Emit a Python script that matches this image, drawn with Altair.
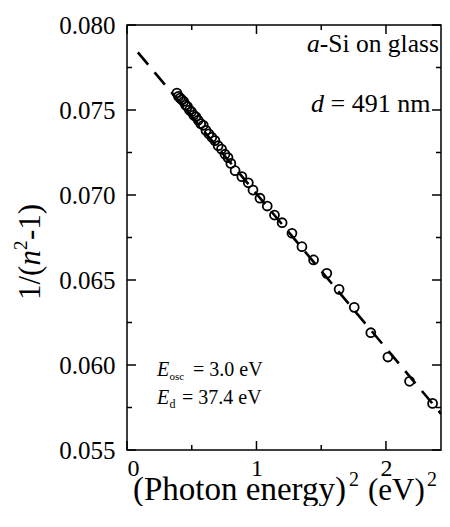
import altair as alt
import pandas as pd

# ---- data ----
x_pts = [0.385, 0.398, 0.411, 0.424, 0.438, 0.452, 0.467, 0.482, 0.498, 0.515,
         0.532, 0.550, 0.569, 0.589, 0.610, 0.632, 0.655, 0.679, 0.704, 0.730,
         0.757, 0.780,
         0.802, 0.835, 0.887, 0.937, 0.973, 1.027, 1.083, 1.139, 1.198, 1.274,
         1.351, 1.441, 1.543, 1.638, 1.755, 1.883, 2.015, 2.182, 2.360]
y_pts = [0.0760, 0.0758, 0.0757, 0.0756, 0.0755, 0.0753, 0.0752, 0.0750, 0.0749, 0.0747,
         0.0746, 0.0744, 0.0742, 0.0741, 0.0738, 0.0736, 0.0734, 0.0732, 0.0729, 0.0727,
         0.0724, 0.0722,
         0.07186, 0.07143, 0.07108, 0.07072, 0.07029, 0.06981, 0.06935, 0.06882, 0.06837, 0.06775,
         0.06696, 0.06618, 0.06539, 0.06445, 0.06339, 0.06190, 0.06047, 0.05904, 0.05774]

fit_x = [0.084, 2.425]
fit_y = [0.07839, 0.05713]

x_major = [0, 1, 2]
x_minor = [0.5, 1.5]
y_major = [0.055, 0.060, 0.065, 0.070, 0.075, 0.080]
y_minor = [0.0575, 0.0625, 0.0675, 0.0725, 0.0775]

X_DOMAIN = [0, 2.425]
Y_DOMAIN = [0.055, 0.080]
W, H = 314, 425
SERIF = "Liberation Serif"

pts = pd.DataFrame({"x": x_pts, "y": y_pts})
fit = pd.DataFrame({"x": fit_x, "y": fit_y})

xs = alt.Scale(domain=X_DOMAIN, nice=False, zero=False)
ys = alt.Scale(domain=Y_DOMAIN, nice=False, zero=False)

x_axis = alt.Axis(values=x_major, format="d", ticks=False, tickSize=0, domain=False, grid=False,
                  labelFont=SERIF, labelFontSize=24, labelPadding=6, labelColor="black",
                  labelBaseline="top", title="")
y_axis = alt.Axis(values=y_major, format=".3f", ticks=False, tickSize=0, domain=False, grid=False,
                  labelFont=SERIF, labelFontSize=25, labelPadding=12, labelColor="black",
                  title="")

line = alt.Chart(fit).mark_line(color="black", strokeWidth=2.6, strokeDash=[16, 10], clip=True).encode(
    x=alt.X("x:Q", scale=xs, axis=x_axis),
    y=alt.Y("y:Q", scale=ys, axis=y_axis),
)

points = alt.Chart(pts).mark_point(shape="circle", filled=False, color="black",
                                   size=80, strokeWidth=1.8, opacity=1).encode(
    x=alt.X("x:Q", scale=xs),
    y=alt.Y("y:Q", scale=ys),
)

def xticks(vals, length):
    d = pd.DataFrame({"v": vals})
    bottom = alt.Chart(d).mark_rule(color="black", strokeWidth=1.5).encode(
        x=alt.X("v:Q", scale=xs), y=alt.value(H), y2=alt.value(H - length))
    top = alt.Chart(d).mark_rule(color="black", strokeWidth=1.5).encode(
        x=alt.X("v:Q", scale=xs), y=alt.value(0), y2=alt.value(length))
    return [bottom, top]

def yticks(vals, length):
    d = pd.DataFrame({"v": vals})
    left = alt.Chart(d).mark_rule(color="black", strokeWidth=1.5).encode(
        y=alt.Y("v:Q", scale=ys), x=alt.value(0), x2=alt.value(length))
    right = alt.Chart(d).mark_rule(color="black", strokeWidth=1.5).encode(
        y=alt.Y("v:Q", scale=ys), x=alt.value(W), x2=alt.value(W - length))
    return [left, right]

def label(text, x, y, size, style="normal", angle=0, dx=0, dy=0):
    d = pd.DataFrame({"t": [text]})
    return alt.Chart(d).mark_text(font=SERIF, fontSize=size, fontStyle=style, align="left",
                                  baseline="alphabetic", color="black", angle=angle,
                                  dx=dx, dy=dy).encode(
        text="t:N", x=alt.value(x), y=alt.value(y))

texts = [
    # annotations
    label("a", 180, 27, 25.5, "italic"),
    label("-Si on glass", 192.8, 27, 25.5),
    label("d", 184, 87, 26, "italic"),
    label("= 491 nm", 203.5, 87, 26),
    label("E", 30, 351, 20, "italic"),
    label("osc", 42.5, 355, 11),
    label("= 3.0 eV", 66, 351, 20),
    label("E", 30, 379, 20, "italic"),
    label("d", 42.5, 383, 12),
    label("= 37.4 eV", 55, 379, 20),
    # x-axis title
    label("(Photon energy)", 6, 475, 33),
    label("2", 222, 461, 20),
    label("(eV)", 241, 475, 31),
    label("2", 300, 461, 20),
    # y-axis title (rotated)
    label("1/(", -87, 275, 31, angle=270),
    label("n", -87, 275, 31, "italic", angle=270, dx=34.4),
    label("2", -87, 275, 19, angle=270, dx=50, dy=-13),
    label("-1)", -87, 275, 31, angle=270, dx=60),
]

layers = [line, points] + xticks(x_major, 9) + xticks(x_minor, 5) + yticks(y_major, 9) + yticks(y_minor, 5) + texts

chart = alt.layer(*layers).properties(
    width=W, height=H,
    autosize=alt.AutoSizeParams(type="none"),
    padding={"left": 119, "top": 17, "right": 1, "bottom": 56},
    background="white",
).configure_view(stroke="black", strokeWidth=1.5)

chart.save("out.html", embed_options={"renderer": "svg", "actions": False})
